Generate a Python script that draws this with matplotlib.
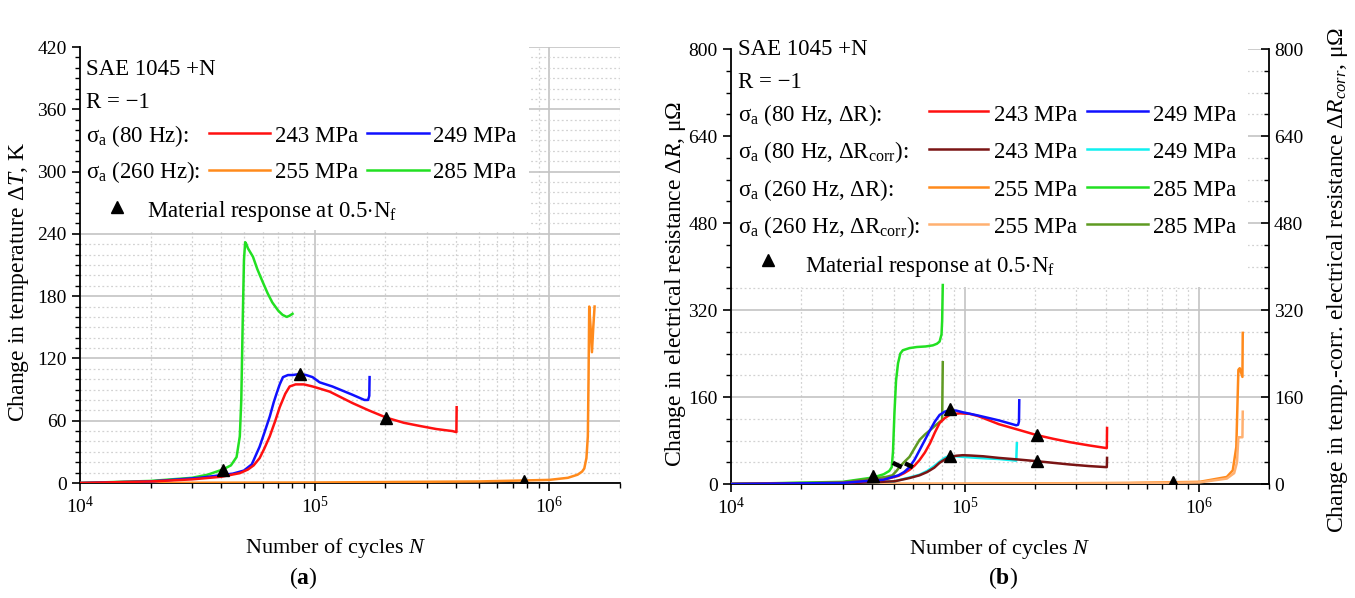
import matplotlib
matplotlib.use("Agg")
import matplotlib.pyplot as plt
from matplotlib.patches import Rectangle
from matplotlib.ticker import MultipleLocator, LogLocator, NullFormatter

plt.rcParams["font.family"] = ["Liberation Serif", "DejaVu Serif"]
plt.rcParams["mathtext.fontset"] = "custom"
plt.rcParams["mathtext.rm"] = "Liberation Serif"
plt.rcParams["mathtext.it"] = "Liberation Serif:italic"
plt.rcParams["mathtext.bf"] = "Liberation Serif:bold"

# ---- (a) temperature change, K ----
n_t243 = [1e4, 2e4, 3e4, 4e4, 4.8e4, 5.2e4, 5.5e4, 5.83e4, 6.1e4, 6.44e4, 6.8e4, 7.1e4, 7.5e4,
          7.83e4, 8.3e4, 9.0e4, 9.8e4, 1.05e5, 1.16e5, 1.45e5, 1.7e5, 2.02e5, 2.4e5, 2.8e5,
          3.3e5, 3.87e5, 4.02e5, 4.03e5]
t243 = [0, 1.5, 3.5, 6, 9.5, 13, 17, 24, 33, 45, 60, 73, 86, 93, 95, 95, 93, 91, 88, 77, 70,
        63, 58, 55, 52, 50, 49, 73]
n_t249 = [1e4, 2e4, 3.24e4, 4.48e4, 5.0e4, 5.4e4, 5.83e4, 6.1e4, 6.44e4, 6.7e4, 6.88e4, 7.1e4,
          7.33e4, 7.7e4, 8.07e4, 8.63e4, 9.2e4, 9.8e4, 1.05e5, 1.19e5, 1.45e5, 1.63e5, 1.69e5,
          1.71e5, 1.715e5]
t249 = [0, 1.5, 5, 9, 12, 18, 35, 48, 64, 78, 86, 95, 102, 104, 104, 105, 104, 102, 97, 93, 85,
        80, 80, 84, 102]
n_t285 = [1e4, 2e4, 3e4, 3.5e4, 4.06e4, 4.4e4, 4.65e4, 4.8e4, 4.87e4, 4.94e4, 5.0e4, 5.06e4,
          5.12e4, 5.2e4, 5.46e4, 5.7e4, 6.0e4, 6.3e4, 6.6e4, 7.0e4, 7.3e4, 7.6e4, 7.8e4, 8.05e4]
t285 = [0, 2, 5, 8, 13, 17, 25, 45, 80, 157, 215, 232, 230, 226, 218, 206, 194, 183, 174, 166,
        162, 160, 161, 163]
n_t255 = [1e4, 1e5, 5e5, 1e6, 1.2e6, 1.32e6, 1.38e6, 1.41e6, 1.44e6, 1.46e6, 1.47e6, 1.48e6,
          1.5e6, 1.52e6, 1.54e6, 1.56e6]
t255 = [0, 0.5, 1.5, 3, 5, 8, 11, 14, 24, 45, 100, 170, 150, 126, 150, 170]
n_t_half = [4.06e4, 8.63e4, 2.02e5, 7.8e5]
t_half = [13, 105, 63, 2]

# ---- (b) electrical resistance change, µOhm ----
n_r243 = [1e4, 3e4, 4.5e4, 5.2e4, 5.5e4, 5.8e4, 6.1e4, 6.4e4, 6.75e4, 7.1e4, 7.45e4, 7.8e4,
          8.2e4, 8.6e4, 9.0e4, 9.5e4, 1.05e5, 1.14e5, 1.4e5, 1.72e5, 2.03e5, 2.4e5, 2.81e5,
          3.4e5, 4.05e5, 4.06e5]
r243 = [0, 2, 8, 15, 20, 26, 34, 44, 58, 75, 95, 112, 121, 127, 129, 130, 129, 125, 110, 99,
        90, 83, 77, 71, 66, 103]
n_r249 = [1e4, 3e4, 4.5e4, 5.2e4, 5.5e4, 5.8e4, 6.1e4, 6.4e4, 6.75e4, 7.1e4, 7.45e4, 7.8e4,
          8.2e4, 8.63e4, 9.2e4, 9.8e4, 1.14e5, 1.4e5, 1.66e5, 1.69e5, 1.705e5, 1.71e5]
r249 = [0, 2, 8, 16, 22, 31, 45, 62, 81, 99, 115, 127, 133, 136, 135, 132, 126, 117, 108, 109,
        115, 154]
n_r285 = [1e4, 3e4, 4.05e4, 4.5e4, 4.75e4, 4.87e4, 4.93e4, 5.0e4, 5.08e4, 5.18e4, 5.3e4,
          5.43e4, 5.8e4, 6.24e4, 6.8e4, 7.3e4, 7.6e4, 7.8e4, 7.95e4, 8.0e4, 8.05e4]
r285 = [0, 4, 12, 18, 24, 31, 60, 130, 190, 222, 240, 246, 250, 252, 253, 255, 258, 262, 275,
        300, 366]
n_r255 = [1e4, 1e5, 5e5, 1.01e6, 1.32e6, 1.4e6, 1.45e6, 1.48e6, 1.5e6, 1.54e6, 1.545e6]
r255 = [0, 0.5, 2, 4, 13, 25, 68, 210, 213, 197, 278]

n_c243 = [1e4, 3e4, 5e4, 5.8e4, 6.4e4, 6.9e4, 7.4e4, 7.8e4, 8.2e4, 8.6e4, 9.2e4, 9.8e4, 1.05e5,
          1.2e5, 1.4e5, 1.7e5, 2.03e5, 2.8e5, 3.4e5, 4.05e5, 4.06e5]
c243 = [0, 1, 5, 11, 16, 22, 30, 39, 45, 50, 52, 53, 52.5, 51, 48, 45, 42, 36, 33, 31, 48]
n_c249 = [1e4, 3e4, 5e4, 5.8e4, 6.4e4, 6.9e4, 7.4e4, 7.8e4, 8.2e4, 8.63e4, 9.2e4, 9.8e4,
          1.14e5, 1.4e5, 1.66e5, 1.67e5]
c249 = [0, 1, 5, 12, 17, 24, 33, 41, 48, 52, 51, 50, 48, 46, 43, 75]
n_c285 = [1e4, 3e4, 4.05e4, 4.6e4, 4.9e4, 5.1e4, 5.3e4, 5.55e4, 5.8e4, 6.1e4, 6.4e4, 6.75e4,
          7.1e4, 7.45e4, 7.8e4, 8.0e4, 8.05e4]
c285 = [0, 3, 10, 13, 16, 24, 33, 42, 50, 66, 81, 91, 99, 107, 114, 118, 224]
n_c255 = [1e4, 1e5, 5e5, 1.01e6, 1.32e6, 1.42e6, 1.46e6, 1.48e6, 1.54e6, 1.545e6]
c255 = [0, 0.3, 1.5, 3, 10, 20, 40, 86, 86, 133]

n_r_half = [4.05e4, 8.63e4, 2.03e5, 7.8e5, 8.63e4, 2.03e5]
r_half = [15, 138, 91, 3, 52, 43]
# the two short black dashes on the rising flank
n_dash1, r_dash1 = [4.92e4, 5.38e4], [39, 31]
n_dash2, r_dash2 = [5.55e4, 6.0e4], [38, 31]

RED, BLUE, GREEN, ORANGE = "#ff1010", "#1010ff", "#22e022", "#ff8a1c"
DRED, CYAN, OLIVE, LORANGE = "#7a1414", "#10f0f0", "#5f9a22", "#ffb070"

FS_TXT = 16.5
FS_TICK = 14
FS_LAB = 16
FS_YLAB = 17

fig = plt.figure(figsize=(13.55, 5.98), dpi=100)
ax1 = fig.add_axes([0.059, 0.1923, 0.3985, 0.7291])
ax2 = fig.add_axes([0.5395, 0.1906, 0.3970, 0.7274])


def style(ax, ymax, ymaj, ymin):
    ax.set_xscale("log")
    ax.set_xlim(1e4, 2e6)
    ax.set_ylim(0, ymax)
    ax.yaxis.set_major_locator(MultipleLocator(ymaj))
    ax.yaxis.set_minor_locator(MultipleLocator(ymin))
    ax.xaxis.set_major_locator(LogLocator(base=10))
    ax.xaxis.set_minor_locator(LogLocator(base=10, subs=range(2, 10)))
    ax.xaxis.set_minor_formatter(NullFormatter())
    ax.set_axisbelow(True)
    ax.grid(which="major", color="#c4c4c4", lw=1.2)
    ax.grid(which="minor", color="#d2d2d2", lw=0.9, ls=(0, (1.5, 2.0)))
    ax.spines["top"].set_visible(False)
    ax.spines["right"].set_visible(False)
    for s in ("left", "bottom"):
        ax.spines[s].set_linewidth(1.3)
    ax.tick_params(which="major", direction="out", length=6, width=1.2, labelsize=FS_TICK)
    ax.tick_params(which="minor", direction="out", length=3.5, width=1.0)


style(ax1, 420, 60, 10)
style(ax2, 800, 160, 40)

lw = 1.8
ax1.plot(n_t255, t255, color=ORANGE, lw=lw, zorder=3)
ax1.plot(n_t285, t285, color=GREEN, lw=lw, zorder=3)
ax1.plot(n_t249, t249, color=BLUE, lw=lw, zorder=3)
ax1.plot(n_t243, t243, color=RED, lw=lw, zorder=3)
ax1.plot(n_t_half, t_half, ls="none", marker="^", ms=9, color="k", zorder=4)

ax2.plot(n_r255, r255, color=ORANGE, lw=lw, zorder=3)
ax2.plot(n_c255, c255, color=LORANGE, lw=lw, zorder=3)
ax2.plot(n_r285, r285, color=GREEN, lw=lw, zorder=3)
ax2.plot(n_c285, c285, color=OLIVE, lw=lw, zorder=3)
ax2.plot(n_c249, c249, color=CYAN, lw=lw, zorder=3)
ax2.plot(n_c243, c243, color=DRED, lw=lw, zorder=3)
ax2.plot(n_r243, r243, color=RED, lw=lw, zorder=3)
ax2.plot(n_r249, r249, color=BLUE, lw=lw, zorder=3)
ax2.plot(n_r_half, r_half, ls="none", marker="^", ms=9, color="k", zorder=4)
ax2.plot(n_dash1, r_dash1, color="k", lw=3.2, solid_capstyle="butt", zorder=4)
ax2.plot(n_dash2, r_dash2, color="k", lw=3.2, solid_capstyle="butt", zorder=4)

# white panels behind the legend text
ax1.add_patch(Rectangle((0, 0.58), 0.831, 0.43, transform=ax1.transAxes,
                        fc="white", ec="none", zorder=1))
ax2.add_patch(Rectangle((0, 0.453), 0.961, 0.56, transform=ax2.transAxes,
                        fc="white", ec="none", zorder=1))

ax2r = ax2.twinx()
ax2r.set_ylim(0, 800)
ax2r.yaxis.set_major_locator(MultipleLocator(160))
ax2r.yaxis.set_minor_locator(MultipleLocator(40))
ax2r.spines["top"].set_visible(False)
ax2r.spines["left"].set_visible(False)
ax2r.spines["bottom"].set_visible(False)
ax2r.spines["right"].set_linewidth(1.3)
ax2r.tick_params(which="major", direction="in", length=6, width=1.2, labelsize=FS_TICK)
ax2r.tick_params(which="minor", direction="in", length=3.5, width=1.0)


def legend_line(ax, x0, x1, y, color):
    ax.plot([x0, x1], [y, y], color=color, lw=lw, transform=ax.transAxes,
            clip_on=False, zorder=5)


def ltext(ax, x, y, s):
    ax.text(x, y, s, transform=ax.transAxes, fontsize=FS_TXT, va="baseline",
            ha="left", zorder=5)


sig = r"$\mathregular{\sigma_a}$"
# legend (a)
ltext(ax1, 0.011, 0.936, "SAE 1045 +N")
ltext(ax1, 0.011, 0.860, "R = \u22121")
ltext(ax1, 0.011, 0.782, sig + " (80 Hz):")
ltext(ax1, 0.011, 0.700, sig + " (260 Hz):")
legend_line(ax1, 0.239, 0.352, 0.803, RED)
ltext(ax1, 0.361, 0.782, "243 MPa")
legend_line(ax1, 0.531, 0.646, 0.803, BLUE)
ltext(ax1, 0.654, 0.782, "249 MPa")
legend_line(ax1, 0.239, 0.352, 0.718, ORANGE)
ltext(ax1, 0.361, 0.700, "255 MPa")
legend_line(ax1, 0.531, 0.646, 0.718, GREEN)
ltext(ax1, 0.654, 0.700, "285 MPa")
ax1.plot([0.069], [0.633], marker="^", ms=9, color="k", transform=ax1.transAxes,
         clip_on=False, zorder=5)
ltext(ax1, 0.124, 0.610, r"Material response at 0.5$\cdot$$\mathregular{N_f}$")

# legend (b)
ltext(ax2, 0.013, 0.986, "SAE 1045 +N")
ltext(ax2, 0.013, 0.910, "R = \u22121")
rows = [
    (sig + r" (80 Hz, $\mathregular{\Delta R}$):", 0.834, 0.857, RED, BLUE, "243 MPa", "249 MPa"),
    (sig + r" (80 Hz, $\mathregular{\Delta R_{corr}}$):", 0.749, 0.770, DRED, CYAN, "243 MPa", "249 MPa"),
    (sig + r" (260 Hz, $\mathregular{\Delta R}$):", 0.662, 0.683, ORANGE, GREEN, "255 MPa", "285 MPa"),
    (sig + r" (260 Hz, $\mathregular{\Delta R_{corr}}$):", 0.577, 0.598, LORANGE, OLIVE, "255 MPa", "285 MPa"),
]
for lab, yb, yl, c1, c2, s1, s2 in rows:
    ltext(ax2, 0.013, yb, lab)
    legend_line(ax2, 0.368, 0.478, yl, c1)
    ltext(ax2, 0.489, yb, s1)
    legend_line(ax2, 0.662, 0.775, yl, c2)
    ltext(ax2, 0.784, yb, s2)
ax2.plot([0.069], [0.515], marker="^", ms=9, color="k", transform=ax2.transAxes,
         clip_on=False, zorder=5)
ltext(ax2, 0.138, 0.487, r"Material response at 0.5$\cdot$$\mathregular{N_f}$")

# axis labels
ax1.set_xlabel(r"Number of cycles $\mathit{N}$", fontsize=FS_LAB)
ax1.xaxis.set_label_coords(0.474, -0.122)
ax1.set_ylabel(r"Change in temperature $\mathit{\Delta T}$, K", fontsize=FS_YLAB)
ax1.yaxis.set_label_coords(-0.09, 0.46)

ax2.set_xlabel(r"Number of cycles $\mathit{N}$", fontsize=FS_LAB)
ax2.xaxis.set_label_coords(0.5, -0.122)
ax2.set_ylabel(r"Change in electrical resistance $\mathit{\Delta R}$, μΩ", fontsize=FS_YLAB)
ax2.yaxis.set_label_coords(-0.08, 0.46)
ax2r.set_ylabel(r"Change in temp.-corr. electrical resistance $\mathit{\Delta R_{corr}}$, μΩ",
                fontsize=FS_YLAB)
ax2r.yaxis.set_label_coords(1.105, 0.47)

fig.text(0.2236, 0.033, r"($\mathbf{a}$)", fontsize=17, ha="center", va="center")
fig.text(0.7400, 0.033, r"($\mathbf{b}$)", fontsize=17, ha="center", va="center")

fig.savefig("out.png", dpi=100)
